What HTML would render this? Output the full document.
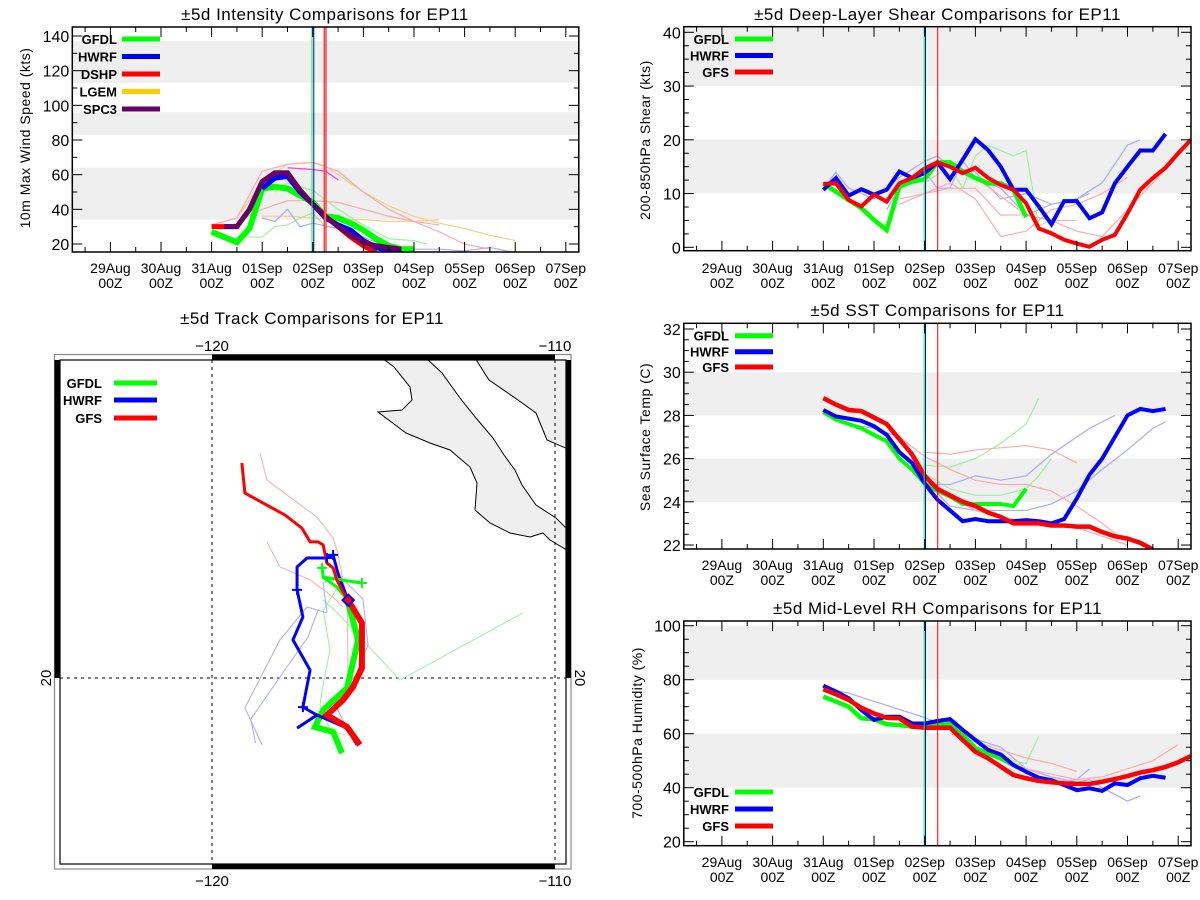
<!DOCTYPE html>
<html><head><meta charset="utf-8"><style>
html,body{margin:0;padding:0;background:#fff;}
svg{display:block;font-family:"Liberation Sans",sans-serif;}
</style></head><body>
<svg id="root" width="1200" height="900" viewBox="0 0 1200 900" xmlns="http://www.w3.org/2000/svg">
<rect x="0" y="0" width="1200" height="900" fill="#fff"/>
<g id="pInt"></g>
<g id="pShr"></g>
<g id="pSst"></g>
<g id="pRh"></g>
<g id="pMap"></g>
</svg>
<script>
const dayLabels = ["29Aug","30Aug","31Aug","01Sep","02Sep","03Sep","04Sep","05Sep","06Sep","07Sep"];

const intGFDL = [[2,27],[2.5,21],[2.75,29],[3,52],[3.25,53],[3.5,52],[3.75,48],[4,44],[4.25,36],[4.5,35],[4.75,32],[5,28],[5.25,23],[5.5,19],[5.75,17],[6,17]];
const intHWRF = [[3,52],[3.25,58],[3.5,59],[3.75,50],[4,43],[4.25,35],[4.5,31],[4.75,28],[5,22],[5.25,18],[5.5,16],[5.75,15]];
const intDSHP = [[2,30],[2.25,30],[2.5,30],[2.75,40],[3,56],[3.25,61],[3.5,61],[3.75,51],[4,43],[4.25,36],[4.5,30],[4.75,24],[5,19],[5.25,15]];
const intLGEM = [[4.5,30],[4.75,25],[5,21],[5.25,19],[5.5,17],[5.75,16]];
const intSPC3 = [[2.25,30],[2.5,30],[2.75,40],[3,56],[3.25,61],[3.5,61],[3.75,51],[4,43],[4.25,36],[4.5,30],[4.75,25],[5,21],[5.25,19],[5.5,18],[5.75,17]];
const intThinLGEM1 = [[2,31],[2.5,35],[3,56],[3.5,66],[4,67],[4.25,65],[4.5,60],[5,50],[5.5,42],[6,36],[6.5,32],[7,29],[7.5,25],[8,22]];
const intThinLGEM2 = [[3,36],[3.5,36],[4,35],[4.5,34],[5,34],[5.5,33],[6,33],[6.5,34]];
const intThinDSHP1 = [[2,31],[2.5,35],[3,62],[3.5,66],[4,67],[4.5,62],[5,50],[5.5,40],[6,33],[6.5,27],[7,20],[7.5,17]];
const intThinDSHP2 = [[2.5,33],[3,40],[3.5,45],[4,45],[4.5,44],[5,40],[5.5,36],[6,33],[6.5,31]];
const intThinSPC3 = [[3.5,64],[4,63],[4.25,62],[4.5,57]];
const intThinGFDL1 = [[2.5,24],[3,24],[3.25,30],[3.5,31],[3.75,35],[4,38],[4.25,30],[4.5,29]];
const intThinGFDL2 = [[3.25,50],[3.5,55],[4,51],[4.5,40],[5,31],[5.5,23],[6,22],[6.25,20]];
const intThinHWRF1 = [[3,35],[3.25,33],[3.5,40],[3.75,30],[4,32],[4.5,29],[5,24],[5.5,18]];
const intThinHWRF2 = [[5.5,18],[6,17],[6.5,17],[7,16],[7.5,18],[8,15]];

const shrHWRF = [[2,10.7],[2.25,12.9],[2.5,9.6],[2.75,10.8],[3,9.8],[3.25,10.7],[3.5,14.1],[3.75,12.9],[4,13.8],[4.25,15.8],[4.5,12.7],[4.75,16.3],[5,20.1],[5.25,18.1],[5.5,15],[5.75,10.7],[6,10.7],[6.25,7.6],[6.5,4.3],[6.75,8.6],[7,8.6],[7.25,5.4],[7.5,6.5],[7.75,11.9],[8,15],[8.25,18],[8.5,18],[8.75,21.1]];
const shrGFDL = [[2,11.9],[2.5,8.8],[2.75,7.3],[3,5.1],[3.25,3.2],[3.5,11.3],[3.75,12.2],[4,12.7],[4.25,15.8],[4.5,15.8],[4.75,14.1],[5,12.9],[5.25,11.9],[5.5,11.9],[5.75,10.7],[6,5.6]];
const shrGFS = [[2,11.8],[2.25,11.9],[2.5,8.8],[2.75,7.6],[3,9.8],[3.25,8.5],[3.5,11.9],[3.75,12.9],[4,14.7],[4.25,15.8],[4.5,15],[4.75,13.8],[5,14.8],[5.25,12.9],[5.5,11.6],[5.75,10.7],[6,8.2],[6.25,3.5],[6.5,2.6],[6.75,1.4],[7,0.7],[7.25,0.1],[7.5,1.4],[7.75,2.3],[8,6.3],[8.25,10.7],[8.5,12.9],[8.75,14.8],[9,17.5],[9.25,20]];
const shrThinHWRF1 = [[2,11],[2.25,14],[2.5,11],[3,9],[3.5,13],[4,16],[4.25,17],[4.5,15],[5,14],[5.5,9],[6,10],[6.5,8],[7,9],[7.5,12],[8,19],[8.25,20]];
const shrThinHWRF2 = [[3.25,7],[3.5,11],[4,14],[4.25,11],[4.5,11],[4.75,16],[5,13],[5.5,11],[6,6],[6.5,8],[7,9],[7.25,10]];
const shrThinGFDL = [[4,12],[4.5,15],[4.75,11],[5,17],[5.25,19],[5.75,17],[6,18],[6.25,4],[6.5,5]];
const shrThinGFS1 = [[3.5,9],[4,10],[4.5,12],[5,9],[5.5,2],[6,3],[6.5,7],[7,8],[7.5,10],[8,13]];
const shrThinGFS2 = [[3.5,8],[4,10],[4.5,11],[5,11],[5.5,6],[6,6],[6.5,5],[7,5]];
const shrThinGFS3 = [[5,13],[6,6],[6.5,5],[7,3],[7.5,2],[8,7],[8.5,12],[9,17],[9.25,20]];

const sstGFS = [[2,28.8],[2.25,28.5],[2.5,28.25],[2.75,28.2],[3,27.9],[3.25,27.6],[3.5,26.9],[3.75,26.2],[4,25.2],[4.25,24.6],[4.5,24.3],[4.75,24],[5,23.8],[5.25,23.5],[5.5,23.3],[5.75,23],[6,23],[6.25,23],[6.5,22.9],[6.75,22.9],[7,22.85],[7.25,22.85],[7.5,22.6],[7.75,22.4],[8,22.3],[8.25,22.1],[8.5,21.8]];
const sstHWRF = [[2,28.25],[2.25,27.95],[2.5,27.85],[2.75,27.75],[3,27.5],[3.25,27.1],[3.5,26.3],[3.75,25.8],[4,24.85],[4.25,24.1],[4.5,23.6],[4.75,23.1],[5,23.2],[5.25,23.1],[5.5,23.1],[5.75,23.1],[6,23.15],[6.25,23.1],[6.5,23],[6.75,23.2],[7,24.15],[7.25,25.25],[7.5,26],[7.75,27],[8,28],[8.25,28.3],[8.5,28.2],[8.75,28.3]];
const sstGFDL = [[2,28.15],[2.25,27.8],[2.5,27.6],[2.75,27.4],[3,27.1],[3.25,26.8],[3.5,26],[3.75,25.5],[4,24.85],[4.25,24.5],[4.5,24.25],[4.75,23.9],[5,23.9],[5.25,23.9],[5.5,23.9],[5.75,23.8],[6,24.6]];
const sstThinGFDL1 = [[4,25.7],[4.5,25.6],[5,26],[5.5,26.7],[6,27.6],[6.25,28.8]];
const sstThinGFDL2 = [[4,25.3],[4.5,24.6],[5,24.3],[5.5,24.3],[6,24.6],[6.25,25.2],[6.5,26]];
const sstThinHWRF1 = [[4,25],[4.25,24.8],[4.5,24.8],[5,25.2],[5.5,25],[6,25.2],[6.5,26.2],[7,27],[7.25,27.4],[7.75,28]];
const sstThinHWRF2 = [[2,28.1],[2.5,27.6],[3,27.4],[3.5,27],[4,25],[4.5,23.8],[5,23.6],[5.5,23.6],[6,23.6],[6.5,23.9],[7,24.5],[7.5,25.5],[8,26.4],[8.5,27.4],[8.75,27.7]];
const sstThinGFS1 = [[4,26.3],[4.5,26.2],[5,26.4],[5.5,26.5],[6,26.6],[6.5,26.4],[7,25.8]];
const sstThinGFS2 = [[3.5,27],[4,26.1],[4.5,25.5],[5,25],[5.5,24.8],[6,24.8],[6.5,24.5],[7,23.8],[7.5,23],[8,22.1]];
const sstThinGFS3 = [[4.5,24.2],[5,23.6],[5.5,23.3],[6,23.1],[6.5,22.9],[7,22.8],[7.5,22.4],[8,22]];

const rhHWRF = [[2,77.8],[2.25,75.6],[2.5,73.1],[2.75,68.8],[3,65.1],[3.25,66.3],[3.5,66.3],[3.75,63.8],[4,63.8],[4.25,64.7],[4.5,65.4],[4.75,61.4],[5,57.7],[5.25,54],[5.5,52.3],[5.75,48.4],[6,45.9],[6.25,43.7],[6.5,42.8],[6.75,41],[7,39.1],[7.25,39.8],[7.5,38.8],[7.75,41.6],[8,41],[8.25,43.5],[8.5,44.4],[8.75,43.7]];
const rhGFS = [[2,76.5],[2.25,74.6],[2.5,72.5],[2.75,69.6],[3,67.5],[3.25,65.9],[3.5,65.7],[3.75,62.6],[4,62.2],[4.25,62.2],[4.5,62.2],[4.75,57.7],[5,53.3],[5.25,50.9],[5.5,47.8],[5.75,44.7],[6,43.5],[6.25,42.5],[6.5,42],[6.75,41.6],[7,41.4],[7.25,41.4],[7.5,42.2],[7.75,43.2],[8,44.3],[8.25,45.6],[8.5,46.5],[8.75,47.7],[9,49.4],[9.25,51.7]];
const rhGFDL = [[2,73.7],[2.25,71.9],[2.5,70],[2.75,65.7],[3,65.4],[3.25,63.5],[3.5,63.2],[3.75,62.6],[4,62.6],[4.25,63.8],[4.5,63.8],[4.75,59.5],[5,54.6],[5.25,52.7],[5.5,50.9],[5.75,48.4]];
const rhThinHWRF1 = [[2,77],[2.5,75],[3,72],[3.5,69],[4,66],[4.25,64],[4.5,64],[5,58],[5.5,55],[6,47],[6.5,44],[7,42],[7.25,43],[7.5,40],[8,35],[8.25,37]];
const rhThinHWRF2 = [[6.5,42],[7,43],[7.25,47]];
const rhThinGFS1 = [[4.5,60],[5,57],[5.5,54],[6,51],[6.5,49],[7,46]];
const rhThinGFS2 = [[5.5,50],[6,47],[6.5,45],[7,43],[7.5,44],[8,47],[8.5,50],[9,56]];
const rhThinGFDL = [[5.75,50],[6,49],[6.25,59]];

const trkGFSfcst = [[-119.13,26.27],[-119.04,25.39],[-117.87,24.75],[-117.38,24.37],[-117.14,23.97],[-116.91,23.97],[-116.76,23.88],[-116.65,23.35],[-116.47,23.21],[-116.36,22.86],[-116.18,22.51],[-116.03,22.27]];
const trkGFS = [[-116.03,22.27],[-115.63,21.6],[-115.63,20.29],[-115.89,19.74],[-116.18,19.36],[-116.65,18.92],[-116.06,18.57],[-115.69,18.05]];
const trkGFDL = [[-116.03,22.19],[-115.74,21.11],[-116.06,19.71],[-116.76,19.07],[-117.0,18.57],[-116.47,18.43],[-116.21,17.81]];
const trkGFDLfcst1 = [[-116.79,23.21],[-116.76,22.94],[-115.63,22.77]];
const trkGFDLfcst2 = [[-116.76,22.94],[-116.36,22.65],[-116.03,22.25]];
const trkHWRF = [[-116.03,22.27],[-116.18,22.65],[-116.33,23.06],[-116.47,23.59],[-116.65,23.5],[-117.23,23.5],[-117.52,23.24],[-117.52,22.57],[-117.35,21.78],[-117.64,21.11],[-117.14,20.23],[-117.35,19.15],[-116.94,18.92],[-117.52,18.54]];
const trkHWRF2 = [[-116.94,18.92],[-116.06,18.54],[-115.77,18.05]];
const trkThinGFS1 = [[-118.6,26.56],[-118.4,25.77],[-116.94,24.69],[-116.47,24.08],[-116.33,23.64],[-116.27,23.29],[-116.06,22.27],[-116.03,19.94]];
const trkThinGFS2 = [[-118.4,23.97],[-118.02,23.24],[-117.14,22.86],[-116.47,22.36],[-116.18,22.07]];
const trkThinGFDL1 = [[-116.76,22.27],[-116.36,21.92],[-114.52,19.94],[-110.93,21.9]];
const trkThinGFDL2 = [[-116.36,22.6],[-116.76,21.98],[-116.56,20.82],[-116.79,19.65],[-116.85,19.22],[-116.56,18.49],[-116.12,18.34]];
const trkThinHWRF1 = [[-116.36,23.0],[-116.76,22.77],[-116.65,21.9],[-117.23,22.07],[-118.02,21.11],[-119.04,19.13],[-118.54,18.05]];
const trkThinHWRF2 = [[-116.36,23.06],[-115.6,22.3],[-115.45,20.96],[-115.8,20.1],[-116.45,19.3],[-116.1,18.6],[-115.85,18.1]];
const trkThinHWRF3 = [[-116.9,22.0],[-117.2,21.2],[-117.9,20.2],[-118.87,18.8],[-118.73,18.1]];
const trkHWRFmarks = [[-116.47,23.59],[-116.65,23.5],[-117.52,22.57],[-117.35,19.15]];
const trkGFDLmarks = [[-116.79,23.21],[-115.63,22.77]];

const NS = "http://www.w3.org/2000/svg";
function mk(parent, tag, attrs, text) {
  const e = document.createElementNS(NS, tag);
  for (const k in attrs) e.setAttribute(k, attrs[k]);
  if (text !== undefined) e.textContent = text;
  parent.appendChild(e);
  return e;
}

function drawPanel(cfg) {
  const g = document.getElementById(cfg.id);
  const X = d => cfg.x0 + cfg.dx * d;
  const Y = v => cfg.yRef - (v - cfg.vRef) * cfg.sy;
  const L = cfg.left, R = cfg.right, T = cfg.top, B = cfg.bottom;
  cfg.bands.forEach(b => {
    const r = mk(g, "rect", {x: L, y: Math.max(T, Y(b[1])), width: R - L, height: Math.min(B, Y(b[0])) - Math.max(T, Y(b[1])), fill: "#efefef"});
    
    
  });
  const clipId = cfg.id + "clip";
  const cp = mk(g, "clipPath", {id: clipId});
  mk(cp, "rect", {x: L, y: T, width: R - L, height: B - T});
  const plot = mk(g, "g", {"clip-path": "url(#" + clipId + ")"});
  cfg.thin.forEach(s => {
    const p = mk(plot, "polyline", {points: s.d.map(q => X(q[0]) + "," + Y(q[1])).join(" "), fill: "none", stroke: s.c, "stroke-width": 1.2});
    
    
  });
  cfg.vlines.forEach(v => {
    const l = mk(g, "line", {x1: v.x, x2: v.x, y1: T, y2: B, stroke: v.c, "stroke-width": v.w || 1});
    
    
  });
  cfg.series.forEach(s => {
    const p = mk(plot, "polyline", {points: s.d.map(q => X(q[0]) + "," + Y(q[1])).join(" "), fill: "none", stroke: s.c, "stroke-width": s.w, "stroke-linejoin": "miter"});
    
    
  });
  const fr = mk(g, "rect", {x: L, y: T, width: R - L, height: B - T, fill: "none", stroke: "#000", "stroke-width": 1.5});
  
  
  for (let v = cfg.yMin; v <= cfg.yMax + 1e-6; v += cfg.yMinor) {
    const y = Y(v);
    if (y < T - 0.5 || y > B + 0.5) continue;
    const major = Math.abs(Math.round(v / cfg.yStep) * cfg.yStep - v) < 1e-6;
    const len = major ? 10 : 5;
    mk(g, "line", {x1: L, x2: L + len, y1: y, y2: y, stroke: "#000", "stroke-width": 1});
    mk(g, "line", {x1: R, x2: R - len, y1: y, y2: y, stroke: "#000", "stroke-width": 1});
    if (major) {
      const t = mk(g, "text", {x: L - 3, y: y + 6, "text-anchor": "end", "font-size": 16, fill: "#000"}, String(v));
      
      
    }
  }
  for (let h = -1; h <= 19; h++) {
    const d = h / 2, x = X(d);
    if (x < L || x > R) continue;
    const len = h % 2 === 0 ? 10 : 5;
    mk(g, "line", {x1: x, x2: x, y1: B, y2: B - len, stroke: "#000", "stroke-width": 1});
    mk(g, "line", {x1: x, x2: x, y1: T, y2: T + len, stroke: "#000", "stroke-width": 1});
  }
  dayLabels.forEach((lab, i) => {
    const t = mk(g, "text", {x: X(i), y: cfg.lab1, "text-anchor": "middle", "font-size": 14, fill: "#000"}, lab);
    
    
    const t2 = mk(g, "text", {x: X(i), y: cfg.lab1 + 15, "text-anchor": "middle", "font-size": 14, fill: "#000"}, "00Z");
    
    
  });
  const tt = mk(g, "text", {x: cfg.tx, y: cfg.ty, "text-anchor": "middle", "font-size": 17, fill: "#000", "letter-spacing": "0.5"}, cfg.title);
  
  
  const yt = mk(g, "text", {x: 0, y: 0, transform: "translate(" + cfg.ytx + "," + cfg.yty + ") rotate(-90)", "text-anchor": "middle", "font-size": 14, fill: "#000", "letter-spacing": "0.5"}, cfg.ytitle);
  
  
  cfg.legend.forEach((e, i) => {
    const y = cfg.legY[i];
    const lt = mk(g, "text", {x: cfg.legTx, y: y + 5, "text-anchor": "end", "font-size": 13, "font-weight": "bold", fill: "#000"}, e.n);
    
    
    const ll = mk(g, "line", {x1: cfg.legL1, x2: cfg.legL2, y1: y, y2: y, stroke: e.c, "stroke-width": 5});
    
    
  });
}

const GRN = "#00ff00", BLU = "#0000ff", RED = "#ff0000", YEL = "#ffcc00", PUR = "#660066";
const LGRN = "#9cf09c", LBLU = "#aaaaff", LRED = "#ffaaaa", LYEL = "#ffcc80";

drawPanel({id: "pInt", left: 72.3, right: 578.8, top: 27, bottom: 252,
  x0: 110.4, dx: 50.6, yRef: 244, vRef: 20, sy: 1.7333,
  yMin: 20, yMax: 140, yStep: 20, yMinor: 10,
  bands: [[34, 64], [83, 96], [113, 137]],
  thin: [{d: intThinLGEM1, c: LYEL}, {d: intThinLGEM2, c: LYEL}, {d: intThinDSHP1, c: LRED}, {d: intThinDSHP2, c: LRED},
         {d: intThinGFDL1, c: LGRN}, {d: intThinGFDL2, c: LGRN}, {d: intThinHWRF1, c: LBLU}, {d: intThinHWRF2, c: LBLU}, {d: intThinSPC3, c: "#ff33ff"}],
  vlines: [{x: 312, c: GRN}, {x: 313.8, c: BLU}, {x: 325.1, c: "#ffcccc", w: 1.5}, {x: 324.2, c: RED}, {x: 326, c: RED}],
  series: [{n: "LGEM", d: intLGEM, c: YEL, w: 5}, {n: "DSHP", d: intDSHP, c: RED, w: 5}, {n: "GFDL", d: intGFDL, c: GRN, w: 6},
           {n: "HWRF", d: intHWRF, c: BLU, w: 5}, {n: "SPC3", d: intSPC3, c: PUR, w: 5}],
  lab1: 273, tx: 325, ty: 20, title: "±5d Intensity Comparisons for EP11",
  ytx: 30, yty: 138, ytitle: "10m Max Wind Speed (kts)",
  legend: [{n: "GFDL", c: GRN}, {n: "HWRF", c: BLU}, {n: "DSHP", c: RED}, {n: "LGEM", c: YEL}, {n: "SPC3", c: PUR}],
  legY: [39, 56.5, 74, 91.5, 109], legTx: 117, legL1: 122, legL2: 160});

drawPanel({id: "pShr", left: 683.8, right: 1191, top: 26.7, bottom: 250.7,
  x0: 721.9, dx: 50.7, yRef: 247.3, vRef: 0, sy: 5.375,
  yMin: 0, yMax: 40, yStep: 10, yMinor: 2.5,
  bands: [[10, 20], [30, 45]],
  thin: [{d: shrThinHWRF1, c: LBLU}, {d: shrThinHWRF2, c: LBLU}, {d: shrThinGFDL, c: LGRN}, {d: shrThinGFS1, c: LRED}, {d: shrThinGFS2, c: LRED}, {d: shrThinGFS3, c: LRED}],
  vlines: [{x: 924.2, c: GRN}, {x: 925.5, c: BLU}, {x: 937.7, c: RED}],
  series: [{n: "GFDL", d: shrGFDL, c: GRN, w: 4.5}, {n: "HWRF", d: shrHWRF, c: BLU, w: 4}, {n: "GFS", d: shrGFS, c: RED, w: 4}],
  lab1: 273, tx: 937.5, ty: 20, title: "±5d Deep-Layer Shear Comparisons for EP11",
  ytx: 650, yty: 140, ytitle: "200-850hPa Shear (kts)",
  legend: [{n: "GFDL", c: GRN}, {n: "HWRF", c: BLU}, {n: "GFS", c: RED}],
  legY: [39, 55.5, 72], legTx: 729, legL1: 735, legL2: 773});

drawPanel({id: "pSst", left: 683.8, right: 1191, top: 323.3, bottom: 549,
  x0: 721.9, dx: 50.7, yRef: 545, vRef: 22, sy: 21.6,
  yMin: 22, yMax: 32, yStep: 2, yMinor: 0.5,
  bands: [[24, 26], [28, 30]],
  thin: [{d: sstThinGFDL1, c: LGRN}, {d: sstThinGFDL2, c: LGRN}, {d: sstThinHWRF1, c: LBLU}, {d: sstThinHWRF2, c: LBLU}, {d: sstThinGFS1, c: LRED}, {d: sstThinGFS2, c: LRED}, {d: sstThinGFS3, c: LRED}],
  vlines: [{x: 924.2, c: GRN}, {x: 925.5, c: BLU}, {x: 937.7, c: RED}],
  series: [{n: "GFDL", d: sstGFDL, c: GRN, w: 4}, {n: "HWRF", d: sstHWRF, c: BLU, w: 4}, {n: "GFS", d: sstGFS, c: RED, w: 4.5}],
  lab1: 570, tx: 937.5, ty: 316, title: "±5d SST Comparisons for EP11",
  ytx: 650, yty: 437, ytitle: "Sea Surface Temp (C)",
  legend: [{n: "GFDL", c: GRN}, {n: "HWRF", c: BLU}, {n: "GFS", c: RED}],
  legY: [335.7, 351.7, 367], legTx: 729, legL1: 735, legL2: 773});

drawPanel({id: "pRh", left: 683.8, right: 1191, top: 621, bottom: 845.7,
  x0: 721.9, dx: 50.7, yRef: 841.7, vRef: 20, sy: 2.7,
  yMin: 20, yMax: 100, yStep: 20, yMinor: 5,
  bands: [[40, 60], [80, 100]],
  thin: [{d: rhThinHWRF1, c: LBLU}, {d: rhThinHWRF2, c: LBLU}, {d: rhThinGFS1, c: LRED}, {d: rhThinGFS2, c: LRED}, {d: rhThinGFDL, c: LGRN}],
  vlines: [{x: 924.2, c: GRN}, {x: 925.5, c: BLU}, {x: 937.7, c: RED}],
  series: [{n: "GFDL", d: rhGFDL, c: GRN, w: 4.5}, {n: "HWRF", d: rhHWRF, c: BLU, w: 4}, {n: "GFS", d: rhGFS, c: RED, w: 4.5}],
  lab1: 867, tx: 937.5, ty: 614, title: "±5d Mid-Level RH Comparisons for EP11",
  ytx: 642, yty: 733, ytitle: "700-500hPa Humidity (%)",
  legend: [{n: "GFDL", c: GRN}, {n: "HWRF", c: BLU}, {n: "GFS", c: RED}],
  legY: [792, 809, 826], legTx: 729, legL1: 735, legL2: 773});

(function () {
  const g = document.getElementById("pMap");
  const LX = lon => 212 + (lon + 120) * 34.3;
  const LY = lat => 678 - (lat - 20) * 34.3;
  const IL = 60, IR = 566, IT = 360, IB = 864;
  const title = mk(g, "text", {x: 312, y: 324, "text-anchor": "middle", "font-size": 17, fill: "#000", "letter-spacing": "0.5"}, "±5d Track Comparisons for EP11");
  
  
  const outer = mk(g, "rect", {x: 54.5, y: 354.5, width: 516.5, height: 514.5, fill: "#fff", stroke: "#888", "stroke-width": 1.2});
  
  
  const cp = mk(g, "clipPath", {id: "mapclip"});
  mk(cp, "rect", {x: IL, y: IT, width: IR - IL, height: IB - IT});
  const inner = mk(g, "g", {"clip-path": "url(#mapclip)"});
  const baja = mk(inner, "polygon", {points: "382,358 394,367 410,387 412,400 402,410 378,412 386,418 406,433 430,443 450,450 470,467 477,483 475,510 490,523 510,533 530,537 543,533 550,540 570,552 570,527 565,527 556,518 536,505 522,485 515,470 504,455 493,438 476,418 460,398 442,373 426,358", fill: "#efefef", stroke: "#000", "stroke-width": 1});
  
  
  const mainland = mk(inner, "polygon", {points: "475,358 489,380 518,400 536,413 547,440 570,450 570,358", fill: "#efefef", stroke: "#000", "stroke-width": 1});
  
  
  [LX(-120), LX(-110)].forEach(x => mk(inner, "line", {x1: x, x2: x, y1: IT, y2: IB, stroke: "#000", "stroke-width": 1, "stroke-dasharray": "3,4"}));
  mk(inner, "line", {x1: IL, x2: IR, y1: LY(20), y2: LY(20), stroke: "#000", "stroke-width": 1, "stroke-dasharray": "3,4"});
  const line = (d, c, w, n) => {
    const p = mk(inner, "polyline", {points: d.map(q => LX(q[0]) + "," + LY(q[1])).join(" "), fill: "none", stroke: c, "stroke-width": w});
    
    
  };
  line(trkThinGFS1, LRED, 1, 'track-thin-gfs');
  line(trkThinGFS2, LRED, 1, 'track-thin-gfs');
  line(trkThinGFDL1, LGRN, 1, 'track-thin-gfdl');
  line(trkThinGFDL2, LGRN, 1, 'track-thin-gfdl');
  line(trkThinHWRF1, LBLU, 1, 'track-thin-hwrf');
  line(trkThinHWRF2, LBLU, 1, 'track-thin-hwrf');
  line(trkThinHWRF3, LBLU, 1, 'track-thin-hwrf');
  line(trkGFDL, GRN, 6, 'track-gfdl-thick');
  line(trkHWRF2, BLU, 3, 'track-hwrf');
  line(trkGFS, RED, 6, 'track-gfs-thick');
  line(trkHWRF, BLU, 3, 'track-hwrf');
  line(trkGFDLfcst1, GRN, 3, 'track-gfdl');
  line(trkGFDLfcst2, GRN, 3, 'track-gfdl');
  line(trkGFSfcst, RED, 3, 'track-gfs');
  trkHWRFmarks.forEach(q => {
    const m = mk(inner, "path", {d: "M" + (LX(q[0]) - 5) + "," + LY(q[1]) + "h10M" + LX(q[0]) + "," + (LY(q[1]) - 5) + "v10", stroke: BLU, "stroke-width": 2});
    
    
  });
  trkGFDLmarks.forEach(q => {
    const m = mk(inner, "path", {d: "M" + (LX(q[0]) - 5) + "," + LY(q[1]) + "h10M" + LX(q[0]) + "," + (LY(q[1]) - 5) + "v10", stroke: GRN, "stroke-width": 2});
    
    
  });
  const dm = mk(inner, "rect", {x: LX(-116.03) - 4, y: LY(22.27) - 4, width: 8, height: 8, fill: RED, stroke: BLU, "stroke-width": 2, transform: "rotate(45 " + LX(-116.03) + " " + LY(22.27) + ")"});
  
  
  mk(g, "rect", {x: IL, y: IT, width: IR - IL, height: IB - IT, fill: "none", stroke: "#000", "stroke-width": 1.2});
  const bar = (x, y, w, h) => {
    const r = mk(g, "rect", {x: x, y: y, width: w, height: h, fill: "#000"});
    
    
  };
  bar(LX(-120), 354.5, LX(-110) - LX(-120), 5.5);
  bar(LX(-120), 864, LX(-110) - LX(-120), 5);
  bar(54.5, 360, 5.5, LY(20) - 360);
  bar(566, 360, 5, LY(20) - 360);
  [[-120, "−120"], [-110, "−110"]].forEach(a => {
    const t1 = mk(g, "text", {x: LX(a[0]), y: 351, "text-anchor": "middle", "font-size": 15, fill: "#000"}, a[1]);
    
    
    const t2 = mk(g, "text", {x: LX(a[0]), y: 886, "text-anchor": "middle", "font-size": 15, fill: "#000"}, a[1]);
    
    
  });
  const la = mk(g, "text", {x: 0, y: 0, transform: "translate(51," + LY(20) + ") rotate(-90)", "text-anchor": "middle", "font-size": 15, fill: "#000"}, "20");
  
  
  const lb = mk(g, "text", {x: 0, y: 0, transform: "translate(575," + LY(20) + ") rotate(90)", "text-anchor": "middle", "font-size": 15, fill: "#000"}, "20");
  
  
  [["GFDL", GRN, 383], ["HWRF", BLU, 400], ["GFS", RED, 418]].forEach(e => {
    const t = mk(g, "text", {x: 102, y: e[2] + 5, "text-anchor": "end", "font-size": 13, "font-weight": "bold", fill: "#000"}, e[0]);
    
    
    const l = mk(g, "line", {x1: 114, x2: 157, y1: e[2], y2: e[2], stroke: e[1], "stroke-width": 5});
    
    
  });
})();
</script>
</body></html>
